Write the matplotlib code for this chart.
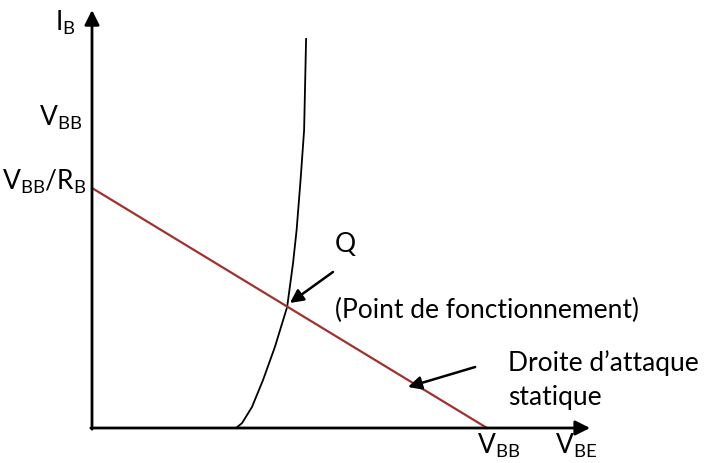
import matplotlib.pyplot as plt

plt.rcParams['font.family'] = ['Lato', 'DejaVu Sans']
plt.rcParams['mathtext.fontset'] = 'custom'
plt.rcParams['mathtext.rm'] = 'Lato'

# input characteristic I_B(V_BE)
vbe = [3.65, 3.80, 4.05, 4.33, 4.63, 4.94, 5.09, 5.18, 5.28, 5.37, 5.42]
ib = [0.0, 0.125, 0.525, 1.2, 2.025, 3.025, 4.125, 4.95, 6.2, 7.45, 9.725]

# load line: from V_BB/R_B on the I_B axis to V_BB on the V_BE axis
v_bb = 10.0
i_max = 6.0
load_x = [0, v_bb]
load_y = [i_max, 0]

x_end = 12.61
y_end = 10.45

fig = plt.figure(figsize=(7.09, 4.63), dpi=100)
ax = fig.add_axes([0, 0, 1, 1])
ax.set_xlim(-2.329, 15.62)
ax.set_ylim(-0.875, 10.7)
ax.axis('off')

# axes with arrows
ax.annotate('', xy=(x_end, 0), xytext=(-0.03, 0),
            arrowprops=dict(arrowstyle='-|>', color='black', lw=2, mutation_scale=22, shrinkA=0, shrinkB=0))
ax.annotate('', xy=(0, y_end), xytext=(0, -0.03),
            arrowprops=dict(arrowstyle='-|>', color='black', lw=2, mutation_scale=22, shrinkA=0, shrinkB=0))

ax.plot(vbe, ib, color='black', lw=1.3)
ax.plot(load_x, load_y, color='#a0312f', lw=1.6)

# pointers
ax.annotate('', xy=(5.01, 3.125), xytext=(6.10, 3.9),
            arrowprops=dict(arrowstyle='-|>', color='black', lw=1.8, mutation_scale=20, shrinkA=0, shrinkB=0))
ax.annotate('', xy=(8.0, 1.025), xytext=(9.70, 1.525),
            arrowprops=dict(arrowstyle='-|>', color='black', lw=1.8, mutation_scale=20, shrinkA=0, shrinkB=0))

fs = 19
ax.text(-0.4, 10.125, r'I$_{\mathrm{B}}$', fontsize=fs, ha='right', va='center')
ax.text(-0.25, 7.75, r'V$_{\mathrm{BB}}$', fontsize=fs, ha='right', va='center')
ax.text(-0.13, 6.15, r'V$_{\mathrm{BB}}$/R$_{\mathrm{B}}$', fontsize=fs, ha='right', va='center')
ax.text(6.15, 4.575, 'Q', fontsize=fs, ha='left', va='center')
ax.text(6.15, 2.95, '(Point de fonctionnement)', fontsize=fs, ha='left', va='center')
ax.text(10.53, 1.625, 'Droite d\u2019attaque', fontsize=fs, ha='left', va='center')
ax.text(10.53, 0.775, 'statique', fontsize=fs, ha='left', va='center')
ax.text(9.75, -0.45, r'V$_{\mathrm{BB}}$', fontsize=fs, ha='left', va='center')
ax.text(11.72, -0.45, r'V$_{\mathrm{BE}}$', fontsize=fs, ha='left', va='center')

fig.savefig('out.png', dpi=100)
